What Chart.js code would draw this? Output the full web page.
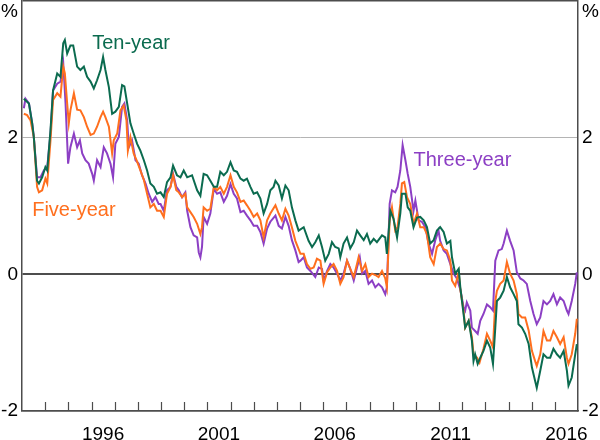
<!DOCTYPE html>
<html>
<head>
<meta charset="utf-8">
<script src="https://cdn.jsdelivr.net/npm/chart.js@4.4.1/dist/chart.umd.min.js"></script>
<style>
html, body { margin: 0; padding: 0; background: #fff; }
</style>
</head>
<body>
<canvas id="spreads" width="600" height="440"></canvas>
<script>
// [decimal year, spread in percentage points]
var tenYear = [[1993.08,2.57],[1993.30,2.50],[1993.44,2.21],[1993.51,2.01],[1993.65,1.37],[1993.73,1.33],[1993.87,1.42],[1994.01,1.57],[1994.09,1.52],[1994.23,2.11],[1994.34,2.69],[1994.52,2.94],[1994.66,2.89],[1994.78,3.38],[1994.85,3.43],[1994.95,3.23],[1995.09,3.35],[1995.21,3.35],[1995.38,3.04],[1995.52,2.99],[1995.67,3.04],[1995.81,2.89],[1995.96,2.82],[1996.10,2.72],[1996.24,2.84],[1996.39,2.99],[1996.50,3.18],[1996.60,2.99],[1996.75,2.74],[1996.89,2.35],[1997.03,2.38],[1997.18,2.45],[1997.32,2.77],[1997.42,2.75],[1997.54,2.50],[1997.68,2.21],[1997.82,2.06],[1997.97,1.91],[1998.11,1.81],[1998.26,1.67],[1998.40,1.52],[1998.54,1.33],[1998.69,1.28],[1998.83,1.18],
  [1998.98,1.20],[1999.12,1.13],[1999.26,1.35],[1999.41,1.42],[1999.52,1.59],[1999.69,1.45],[1999.84,1.42],[1999.98,1.52],[2000.13,1.42],[2000.34,1.45],[2000.56,1.23],[2000.70,1.15],[2000.84,1.47],[2000.99,1.45],[2001.13,1.37],[2001.28,1.28],[2001.42,1.28],[2001.56,1.50],[2001.71,1.45],[2001.85,1.50],[2002.00,1.64],[2002.14,1.52],[2002.28,1.50],[2002.43,1.40],[2002.57,1.37],[2002.71,1.40],[2002.86,1.28],[2003.00,1.18],[2003.15,1.20],[2003.29,1.11],[2003.43,0.89],[2003.58,1.03],[2003.72,1.23],[2003.86,1.28],[2003.94,1.37],[2004.08,1.30],[2004.22,1.11],[2004.37,1.30],[2004.51,1.23],[2004.65,0.98],[2004.80,0.79],[2004.94,0.64],
  [2005.16,0.69],[2005.37,0.49],[2005.52,0.40],[2005.66,0.47],[2005.81,0.57],[2005.95,0.40],[2006.09,0.20],[2006.24,0.30],[2006.38,0.47],[2006.52,0.40],[2006.67,0.38],[2006.74,0.25],[2006.88,0.45],[2007.03,0.54],[2007.17,0.38],[2007.32,0.47],[2007.46,0.64],[2007.60,0.57],[2007.75,0.50],[2007.89,0.59],[2008.03,0.45],[2008.18,0.52],[2008.32,0.47],[2008.54,0.57],[2008.68,0.54],[2008.75,0.30],[2008.83,0.64],[2008.90,0.93],[2009.04,0.81],[2009.19,0.54],[2009.33,0.89],[2009.40,1.18],[2009.55,1.18],[2009.65,0.98],[2009.76,0.93],[2009.90,0.69],[2010.05,0.83],[2010.19,0.84],[2010.34,0.79],[2010.48,0.69],[2010.62,0.45],[2010.77,0.50],[2010.91,0.64],
  [2011.05,0.69],[2011.20,0.62],[2011.34,0.45],[2011.49,0.49],[2011.56,0.25],[2011.70,0.01],[2011.85,0.08],[2011.92,-0.19],[2012.06,-0.58],[2012.13,-0.78],[2012.28,-0.68],[2012.42,-0.97],[2012.49,-1.27],[2012.56,-1.17],[2012.67,-1.31],[2012.78,-1.22],[2012.92,-1.12],[2013.07,-0.97],[2013.21,-1.07],[2013.33,-1.31],[2013.43,-0.78],[2013.50,-0.39],[2013.64,-0.34],[2013.79,-0.24],[2013.93,-0.04],[2014.07,-0.19],[2014.22,-0.29],[2014.36,-0.39],[2014.43,-0.73],[2014.58,-0.78],[2014.72,-0.87],[2014.87,-1.02],[2015.01,-1.36],[2015.15,-1.56],[2015.22,-1.66],[2015.37,-1.41],[2015.51,-1.17],[2015.66,-1.22],[2015.80,-1.22],[2015.94,-1.09],[2016.09,-1.17],[2016.23,-1.22],[2016.38,-1.12],[2016.52,-1.41],[2016.59,-1.63],[2016.73,-1.51],[2016.88,-1.17],[2016.95,-1.02]];

var fiveYear = [[1993.08,2.35],[1993.22,2.33],[1993.37,2.25],[1993.51,2.01],[1993.65,1.28],[1993.73,1.20],[1993.87,1.23],[1994.01,1.40],[1994.09,1.33],[1994.23,1.96],[1994.34,2.55],[1994.52,2.65],[1994.66,2.60],[1994.78,3.04],[1994.85,2.94],[1994.95,2.50],[1995.02,2.21],[1995.09,2.40],[1995.24,2.65],[1995.38,2.41],[1995.52,2.40],[1995.67,2.30],[1995.81,2.16],[1995.96,2.04],[1996.10,2.06],[1996.24,2.16],[1996.39,2.30],[1996.50,2.38],[1996.60,2.30],[1996.75,2.16],[1996.89,1.77],[1996.96,1.96],[1997.11,2.06],[1997.25,2.40],[1997.39,2.47],[1997.51,2.25],[1997.57,1.81],[1997.68,2.01],[1997.82,1.77],[1997.97,1.65],[1998.11,1.52],[1998.26,1.38],[1998.40,1.18],[1998.54,0.98],[1998.69,1.03],[1998.83,0.93],
  [1998.98,0.93],[1999.12,0.84],[1999.26,1.18],[1999.41,1.28],[1999.52,1.45],[1999.66,1.23],[1999.77,1.20],[1999.91,1.13],[2000.05,1.18],[2000.13,0.98],[2000.27,0.91],[2000.41,0.84],[2000.56,0.74],[2000.70,0.59],[2000.77,0.69],[2000.84,0.98],[2000.99,0.93],[2001.13,0.96],[2001.28,1.28],[2001.42,1.23],[2001.56,1.28],[2001.71,1.18],[2001.85,1.28],[2002.00,1.45],[2002.14,1.28],[2002.28,1.20],[2002.43,1.06],[2002.57,1.08],[2002.71,1.01],[2002.86,0.93],[2003.00,0.84],[2003.15,0.89],[2003.29,0.79],[2003.43,0.54],[2003.58,0.79],[2003.72,0.89],[2003.94,1.01],[2004.08,0.89],[2004.22,0.79],[2004.37,0.96],[2004.51,0.86],[2004.65,0.69],[2004.80,0.49],[2004.94,0.37],
  [2005.02,0.30],[2005.16,0.30],[2005.30,0.15],[2005.45,0.08],[2005.59,0.10],[2005.73,0.23],[2005.88,0.20],[2006.02,-0.14],[2006.17,0.03],[2006.31,0.10],[2006.45,0.15],[2006.60,0.05],[2006.74,-0.14],[2006.88,-0.04],[2007.03,0.20],[2007.17,0.08],[2007.32,-0.04],[2007.46,0.15],[2007.53,0.25],[2007.68,0.05],[2007.82,0.15],[2007.96,-0.04],[2008.11,0.01],[2008.25,-0.01],[2008.39,-0.04],[2008.54,0.05],[2008.68,-0.06],[2008.75,-0.19],[2008.87,0.79],[2008.97,0.98],[2009.11,0.64],[2009.21,0.69],[2009.33,1.03],[2009.40,1.33],[2009.50,1.35],[2009.62,1.13],[2009.76,1.03],[2009.90,0.74],[2010.05,0.89],[2010.19,0.69],[2010.34,0.69],[2010.48,0.59],[2010.62,0.25],[2010.77,0.15],[2010.91,0.40],
  [2011.05,0.45],[2011.20,0.37],[2011.34,0.35],[2011.49,0.20],[2011.56,-0.09],[2011.70,-0.17],[2011.85,0.03],[2011.92,-0.22],[2012.06,-0.53],[2012.13,-0.78],[2012.28,-0.68],[2012.42,-0.92],[2012.49,-1.17],[2012.64,-1.22],[2012.75,-1.29],[2012.92,-1.09],[2013.07,-0.87],[2013.21,-0.97],[2013.33,-1.07],[2013.43,-0.39],[2013.50,-0.24],[2013.64,-0.14],[2013.79,-0.09],[2013.93,0.18],[2014.07,0.01],[2014.22,-0.09],[2014.36,-0.29],[2014.43,-0.58],[2014.58,-0.63],[2014.72,-0.63],[2014.87,-0.82],[2015.01,-1.12],[2015.15,-1.27],[2015.22,-1.34],[2015.37,-1.17],[2015.51,-0.83],[2015.66,-0.97],[2015.80,-0.97],[2015.94,-0.83],[2016.09,-0.92],[2016.23,-1.02],[2016.38,-0.92],[2016.52,-1.22],[2016.59,-1.31],[2016.73,-1.17],[2016.88,-0.87],[2016.95,-0.65]];

var threeYear = [[1993.08,2.43],[1993.15,2.57],[1993.30,2.50],[1993.44,2.21],[1993.51,2.01],[1993.65,1.42],[1993.80,1.42],[1993.94,1.52],[1994.09,1.57],[1994.23,2.06],[1994.34,2.69],[1994.52,2.79],[1994.66,2.82],[1994.78,3.09],[1994.88,2.50],[1994.99,1.62],[1995.09,1.86],[1995.24,2.06],[1995.38,1.86],[1995.50,1.96],[1995.60,1.77],[1995.74,1.67],[1995.88,1.62],[1996.03,1.47],[1996.10,1.37],[1996.24,1.67],[1996.39,1.57],[1996.53,1.86],[1996.67,1.77],[1996.82,1.62],[1996.93,1.42],[1997.03,1.91],[1997.18,2.01],[1997.32,2.45],[1997.42,2.50],[1997.54,2.25],[1997.61,1.86],[1997.75,1.96],[1997.90,1.67],[1998.04,1.62],[1998.18,1.45],[1998.33,1.33],[1998.47,1.18],[1998.62,1.06],[1998.76,1.13],[1998.90,1.03],
  [1998.98,1.03],[1999.12,0.93],[1999.26,1.23],[1999.41,1.28],[1999.52,1.47],[1999.66,1.28],[1999.77,1.23],[1999.91,1.13],[2000.05,1.20],[2000.13,0.93],[2000.27,0.69],[2000.41,0.57],[2000.56,0.54],[2000.63,0.32],[2000.70,0.25],[2000.77,0.40],[2000.84,0.84],[2000.99,0.74],[2001.13,0.89],[2001.28,1.25],[2001.42,1.18],[2001.56,1.20],[2001.71,1.06],[2001.85,1.15],[2002.00,1.32],[2002.14,1.18],[2002.28,1.11],[2002.43,0.91],[2002.57,0.93],[2002.71,0.86],[2002.86,0.79],[2003.00,0.71],[2003.15,0.71],[2003.29,0.62],[2003.43,0.45],[2003.58,0.67],[2003.72,0.77],[2003.94,0.86],[2004.08,0.71],[2004.22,0.67],[2004.37,0.84],[2004.51,0.71],[2004.65,0.50],[2004.80,0.35],[2004.94,0.18],
  [2005.02,0.20],[2005.16,0.25],[2005.30,0.10],[2005.45,0.05],[2005.66,-0.04],[2005.81,0.10],[2005.95,0.08],[2006.02,-0.09],[2006.17,0.05],[2006.31,0.15],[2006.45,0.10],[2006.60,0.01],[2006.74,-0.09],[2006.88,0.01],[2007.03,0.20],[2007.17,0.08],[2007.32,-0.09],[2007.46,0.10],[2007.58,0.25],[2007.68,0.01],[2007.82,0.05],[2007.96,-0.14],[2008.11,-0.09],[2008.25,-0.19],[2008.39,-0.14],[2008.54,-0.19],[2008.68,-0.29],[2008.75,-0.19],[2008.87,1.03],[2008.97,1.23],[2009.11,1.20],[2009.21,1.28],[2009.33,1.52],[2009.43,1.89],[2009.55,1.67],[2009.65,1.47],[2009.76,1.28],[2009.90,0.93],[2009.98,1.08],[2010.12,0.79],[2010.26,0.77],[2010.41,0.69],[2010.55,0.45],[2010.70,0.30],[2010.84,0.50],[2010.98,0.64],
  [2011.05,0.49],[2011.20,0.35],[2011.34,0.30],[2011.49,0.15],[2011.63,0.01],[2011.77,-0.06],[2011.92,-0.22],[2012.06,-0.48],[2012.13,-0.53],[2012.20,-0.41],[2012.35,-0.53],[2012.42,-0.78],[2012.56,-0.83],[2012.67,-0.87],[2012.78,-0.68],[2012.92,-0.58],[2013.07,-0.44],[2013.21,-0.48],[2013.33,-0.53],[2013.43,0.20],[2013.57,0.35],[2013.71,0.37],[2013.79,0.45],[2013.93,0.64],[2014.07,0.49],[2014.22,0.35],[2014.36,0.03],[2014.51,-0.06],[2014.65,-0.09],[2014.79,-0.14],[2014.94,-0.39],[2015.08,-0.58],[2015.22,-0.73],[2015.37,-0.63],[2015.51,-0.39],[2015.66,-0.44],[2015.80,-0.39],[2015.94,-0.29],[2016.09,-0.44],[2016.23,-0.34],[2016.38,-0.39],[2016.52,-0.53],[2016.59,-0.58],[2016.73,-0.39],[2016.88,-0.14],[2016.95,0.03]];

var seriesNames = ['Ten-year', 'Five-year', 'Three-year'];
var yTicks = [-2, 0, 2, 4];
var yearLabels = [1996, 2001, 2006, 2011, 2016];

var green = '#0b6b4f', orange = '#ff6f1e', purple = '#8c3fc4';
var axisGrey = '#4d4d4d', gridGrey = '#b4b4b4';
var fontFamily = 'Arial, "Liberation Sans", sans-serif';

function toPoints(rows) {
    return rows.map(function (r) { return { x: r[0], y: r[1] }; });
}

// inward year tick marks, % unit labels and the in-chart series names
var annotate = {
    id: 'annotate',
    afterDraw: function (chart) {
        var ctx = chart.ctx, xs = chart.scales.x, ys = chart.scales.y, a = chart.chartArea;
        ctx.save();
        ctx.strokeStyle = axisGrey;
        ctx.lineWidth = 1.2;
        for (var yr = xs.min + 1; yr < xs.max; yr++) {
            var px = Math.round(xs.getPixelForValue(yr)) + 0.5;
            ctx.beginPath();
            ctx.moveTo(px, a.bottom);
            ctx.lineTo(px, a.bottom - 9);
            ctx.stroke();
        }
        ctx.font = '19px ' + fontFamily;
        ctx.fillStyle = '#000';
        ctx.textBaseline = 'middle';
        ctx.textAlign = 'right';
        ctx.fillText('%', a.left - 4, 12);
        ctx.textAlign = 'left';
        ctx.fillText('%', a.right + 4, 12);

        ctx.font = '20px ' + fontFamily;
        var spots = [
            { t: seriesNames[0], x: 1996.03, y: 3.38, c: green },
            { t: seriesNames[1], x: 1993.44, y: 0.93, c: orange },
            { t: seriesNames[2], x: 2009.90, y: 1.67, c: purple }
        ];
        spots.forEach(function (s) {
            ctx.fillStyle = s.c;
            ctx.fillText(s.t, xs.getPixelForValue(s.x), ys.getPixelForValue(s.y));
        });
        ctx.restore();
    }
};

function yAxis(pos) {
    return {
        type: 'linear',
        position: pos,
        min: -2,
        max: 4,
        afterBuildTicks: function (s) { s.ticks = yTicks.map(function (v) { return { value: v }; }); },
        afterFit: function (s) {
            s.width = 22;
            s.paddingTop = 0;
            s.paddingBottom = 0;
        },
        ticks: {
            padding: 4,
            color: '#000',
            font: { family: fontFamily, size: 19 },
            callback: function (v) { return v === 4 ? '' : String(v); }
        },
        grid: {
            display: pos === 'left',
            drawTicks: false,
            color: function (c) {
                var v = c.tick && c.tick.value;
                if (v === 2) return gridGrey;
                return axisGrey;
            },
            lineWidth: function (c) {
                var v = c.tick && c.tick.value;
                if (v === 0) return 2;
                if (v === 2) return 1;
                return 1.5;
            }
        },
        border: { display: true, color: axisGrey, width: 1.5 }
    };
}

new Chart(document.getElementById('spreads'), {
    type: 'line',
    data: {
        datasets: [
            { label: seriesNames[0], data: toPoints(tenYear), borderColor: green, order: 1 },
            { label: seriesNames[1], data: toPoints(fiveYear), borderColor: orange, order: 2 },
            { label: seriesNames[2], data: toPoints(threeYear), borderColor: purple, order: 3 }
        ]
    },
    options: {
        responsive: false,
        animation: false,
        layout: { padding: { top: 1, left: 0, right: 0, bottom: 0 } },
        elements: {
            line: { borderWidth: 2, tension: 0, fill: false },
            point: { radius: 0 }
        },
        plugins: { legend: { display: false }, tooltip: { enabled: false } },
        scales: {
            x: {
                type: 'linear',
                min: 1993,
                max: 2017,
                afterBuildTicks: function (s) { s.ticks = yearLabels.map(function (y) { return { value: y + 0.5 }; }); },
                afterFit: function (s) {
                    s.height = 29;
                    s.paddingLeft = 0;
                    s.paddingRight = 0;
                },
                ticks: {
                    padding: 12,
                    maxRotation: 0,
                    autoSkip: false,
                    color: '#000',
                    font: { family: fontFamily, size: 19 },
                    callback: function (v) { return String(Math.floor(v)); }
                },
                grid: { display: false, drawTicks: false },
                border: { display: true, color: axisGrey, width: 1.5 }
            },
            y: yAxis('left'),
            y2: yAxis('right')
        }
    },
    plugins: [annotate]
});
</script>
</body>
</html>
